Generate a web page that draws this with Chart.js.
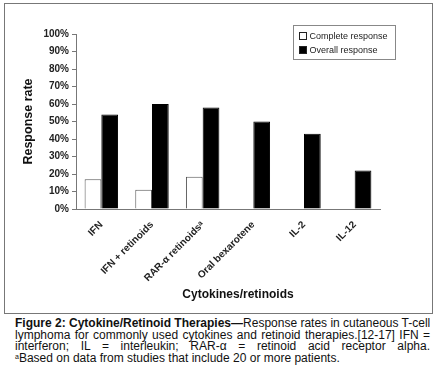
<!DOCTYPE html>
<html>
<head>
<meta charset="utf-8">
<script src="https://cdn.jsdelivr.net/npm/chart.js@4/dist/chart.umd.min.js"></script>
<style>
  body { margin: 0; background: #fff; font-family: "Liberation Sans", Arial, sans-serif; }
  #frame { position: absolute; left: 4px; top: 3px; width: 427px; height: 309px; border: 1px solid #777; }
  #wrap { position: absolute; left: 5px; top: 4px; width: 426px; height: 308px; }
  #caption { position: absolute; left: 15px; top: 318px; width: 415px; font-size: 12px; line-height: 11.7px; color: #111; }
  #caption div { text-align: justify; text-align-last: justify; white-space: nowrap; }
  #caption div.last { text-align-last: left; }
  #caption b { font-weight: bold; }
  sup { font-size: 7px; vertical-align: 3px; line-height: 0; }
</style>
</head>
<body>
<div id="frame"></div>
<div id="wrap"><canvas id="chartResp" width="426" height="308"></canvas></div>
<div id="caption">
  <div><b>Figure 2: Cytokine/Retinoid Therapies—</b>Response rates in cutaneous T-cell</div>
  <div>lymphoma for commonly used cytokines and retinoid therapies.[12-17] IFN =</div>
  <div>interferon; IL = interleukin; RAR-α = retinoid acid receptor alpha.</div>
  <div class="last"><sup>a</sup>Based on data from studies that include 20 or more patients.</div>
</div>
<script>
const therapies = ['IFN', 'IFN + retinoids', 'RAR-α retinoidsᵃ', 'Oral bexarotene', 'IL-2', 'IL-12']
const completeResp = [17, 11, 18.5, null, null, null]
const overallResp = [54, 60, 58, 50, 43, 22]
const seriesNames = ['Complete response', 'Overall response']

const fontFam = '"Liberation Sans", Arial, sans-serif'

// boxed legend in the top right, like the original figure
const boxLegend = {
    id: 'boxLegend',
    afterDraw(chart) {
        const c = chart.ctx
        c.save()
        c.strokeStyle = '#888'
        c.lineWidth = 1
        c.strokeRect(288.5, 21.5, 102, 34)
        c.font = '9px ' + fontFam
        c.textBaseline = 'middle'
        chart.data.datasets.forEach(function (ds, i) {
            const y = 28 + i * 14
            c.fillStyle = ds.backgroundColor
            c.fillRect(294, y, 8, 8)
            c.strokeStyle = '#222'
            c.strokeRect(294.5, y + 0.5, 7, 7)
            c.fillStyle = '#222'
            c.fillText(ds.label, 304.5, y + 4.5)
        })
        c.restore()
    }
}

var ctxResp = document.getElementById('chartResp').getContext('2d');
var chartResp = new Chart(ctxResp, {
    type: 'bar',
    data: {
        labels: therapies,
        datasets: [
            { label: seriesNames[0], data: completeResp, backgroundColor: '#ffffff', borderColor: '#555', borderWidth: 1 },
            { label: seriesNames[1], data: overallResp, backgroundColor: '#000000', borderColor: '#000', borderWidth: 1 }
        ]
    },
    options: {
        responsive: false,
        animation: false,
        layout: { padding: { left: 12, top: 30, right: 51, bottom: 10 } },
        datasets: { bar: { categoryPercentage: 0.66, barPercentage: 1.0 } },
        plugins: { legend: { display: false }, tooltip: { enabled: false } },
        scales: {
            x: {
                grid: { display: false },
                border: { display: true, color: '#777', width: 1 },
                ticks: {
                    color: '#222', minRotation: 45, maxRotation: 45, padding: 2,
                    font: { family: fontFam, size: 10, weight: 'bold' }
                },
                title: {
                    display: true, text: '\u00a0\u00a0\u00a0\u00a0\u00a0\u00a0Cytokines/retinoids', color: '#111',
                    font: { family: fontFam, size: 12, weight: 'bold' }, padding: { top: 0, bottom: 0 }
                },
                afterFit(scale) { scale.height = 93 }
            },
            y: {
                min: 0, max: 100,
                grid: { drawOnChartArea: false, color: '#777', tickLength: 4 },
                border: { display: true, color: '#777', width: 1 },
                ticks: {
                    stepSize: 10, color: '#222', padding: 3,
                    font: { family: fontFam, size: 10, weight: 'bold' },
                    callback: function (v) { return v + '%' }
                },
                title: {
                    display: true, text: 'Response rate', color: '#111',
                    font: { family: fontFam, size: 12.5, weight: 'bold' }, padding: { top: 4, bottom: 4 }
                },
                afterFit(scale) { scale.width = 59 }
            }
        }
    },
    plugins: [boxLegend]
});
</script>
</body>
</html>
